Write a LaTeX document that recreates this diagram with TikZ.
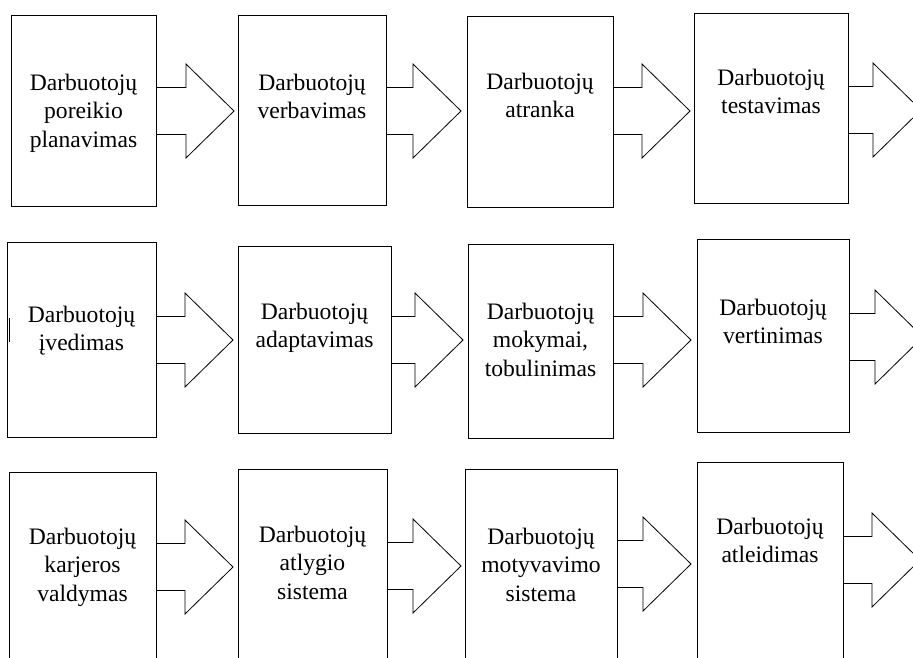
\documentclass[tikz,border=0pt]{standalone}
\usepackage{fontspec}
\setmainfont{Liberation Serif}
\usetikzlibrary{positioning}

\begin{document}
\begin{tikzpicture}[x=1pt,y=-1pt,
box/.style = {draw, line width=0.8pt, inner sep=0pt},
caption/.style = {align=center, inner sep=0pt,
        font=\fontsize{23.6}{28.5}\selectfont},
blockarrow/.style = {draw, line width=0.8pt, line join=miter}]

        \useasboundingbox (0,0) rectangle (913,657);
        \clip (0,0) rectangle (913,657);

        % first row
        \node[box, minimum width=145pt, minimum height=191pt] (b1) at (83.5,110.5) {};
        \node[box, minimum width=148pt, minimum height=190pt] (b2) at (312,110) {};
        \node[box, minimum width=146pt, minimum height=191pt] (b3) at (540,111.5) {};
        \node[box, minimum width=154pt, minimum height=190pt] (b4) at (771,108) {};

        % second row
        \node[box, minimum width=149pt, minimum height=195pt] (b5) at (81.5,339.5) {};
        \node[box, minimum width=153pt, minimum height=187pt] (b6) at (314.5,339.5) {};
        \node[box, minimum width=145pt, minimum height=194pt] (b7) at (540.5,341) {};
        \node[box, minimum width=152pt, minimum height=193pt] (b8) at (773,335.5) {};

        % third row
        \node[box, minimum width=147pt, minimum height=196pt] (b9) at (82.5,570) {};
        \node[box, minimum width=149pt, minimum height=196pt] (b10) at (312.5,567) {};
        \node[box, minimum width=152pt, minimum height=196pt] (b11) at (541,567) {};
        \node[box, minimum width=146pt, minimum height=200pt] (b12) at (770,562) {};

        \node[caption, below=59pt of b1.north] (t1) {Darbuotojų\\poreikio\\planavimas};
        \node[caption, below=59pt of b2.north] (t2) {Darbuotojų\\verbavimas};
        \node[caption, below=57pt of b3.north] (t3) {Darbuotojų\\atranka};
        \node[caption, below=56pt of b4.north] (t4) {Darbuotojų\\testavimas};
        \node[caption, below=64pt of b5.north] (t5) {Darbuotojų\\įvedimas};
        \node[caption, below=57pt of b6.north] (t6) {Darbuotojų\\adaptavimas};
        \node[caption, below=59pt of b7.north] (t7) {Darbuotojų\\mokymai,\\tobulinimas};
        \node[caption, below=60pt of b8.north] (t8) {Darbuotojų\\vertinimas};
        \node[caption, below=56pt of b9.north] (t9) {Darbuotojų\\karjeros\\valdymas};
        \node[caption, below=57pt of b10.north] (t10) {Darbuotojų\\atlygio\\sistema};
        \node[caption, below=59pt of b11.north] (t11) {Darbuotojų\\motyvavimo\\sistema};
        \node[caption, below=56pt of b12.north] (t12) {Darbuotojų\\atleidimas};

        \draw[line width=0.8pt] (9,318) -- (9,342);

        % block arrows: box / head base x / middle y
        \foreach \from/\base/\mid in {b1/186/111, b2/413/111, b3/642/111, b4/873/110,
                b5/185/340, b6/415/340, b7/643/340, b8/875/337,
                b9/185/567, b10/413/566, b11/643/564, b12/872/560}
        {
            \draw[blockarrow] (\from.east |- 0,\mid-23.5) -- (\base,\mid-23.5)
                -- (\base,\mid-47) -- (\base+48,\mid) -- (\base,\mid+47)
                -- (\base,\mid+23.5) -- (\from.east |- 0,\mid+23.5);
        }

    \end{tikzpicture}
\end{document}
